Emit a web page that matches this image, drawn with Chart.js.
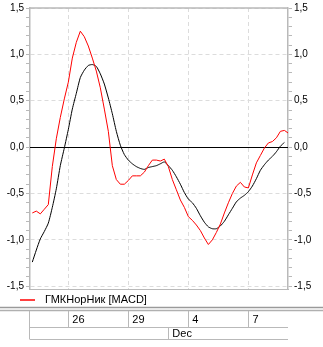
<!DOCTYPE html>
<html>
<head>
<meta charset="utf-8">
<script src="https://cdn.jsdelivr.net/npm/chart.js@4.4.1/dist/chart.umd.min.js"></script>
<style>
  html, body { margin: 0; padding: 0; background: #fff; }
  #wrap { width: 323px; height: 347px; position: relative; }
</style>
</head>
<body>
<div id="wrap"><canvas id="macdChart"></canvas></div>
<script>
// MACD line (red) and signal line (black), one value per bar
const macd = [
  -0.71, -0.69, -0.72, -0.67, -0.62, -0.21, 0.09, 0.32, 0.52, 0.70,
  0.96, 1.13, 1.25, 1.19, 1.09, 0.96, 0.82, 0.64, 0.41, 0.17,
  -0.20, -0.35, -0.40, -0.40, -0.36, -0.31, -0.31, -0.31, -0.27, -0.20,
  -0.14, -0.14, -0.15, -0.13, -0.21, -0.35, -0.46, -0.57, -0.65, -0.75,
  -0.79, -0.84, -0.90, -0.98, -1.05, -1.00, -0.92, -0.83, -0.71, -0.60,
  -0.50, -0.42, -0.38, -0.43, -0.44, -0.30, -0.17, -0.09, -0.01, 0.045,
  0.06, 0.10, 0.17, 0.18, 0.15
];
const signal = [
  -1.24, -1.11, -0.99, -0.91, -0.82, -0.65, -0.45, -0.20, -0.01, 0.19,
  0.41, 0.58, 0.75, 0.83, 0.88, 0.89, 0.87, 0.79, 0.68, 0.53,
  0.36, 0.17, 0.02, -0.08, -0.14, -0.18, -0.21, -0.23, -0.24, -0.22,
  -0.21, -0.20, -0.18, -0.16, -0.20, -0.25, -0.32, -0.40, -0.49, -0.56,
  -0.60, -0.66, -0.74, -0.81, -0.86, -0.88, -0.88, -0.85, -0.80, -0.73,
  -0.66, -0.59, -0.55, -0.52, -0.48, -0.42, -0.34, -0.25, -0.19, -0.14,
  -0.10, -0.05, 0.01, 0.05, null
];

// date row: bar index where each day / month starts
const dayIdx = [9, 24, 39, 54];
const dayLabels = ['26', '29', '4', '7'];
const monthIdx = [34];
const monthLabels = ['Dec'];

const yMajor = [-1.5, -1.0, -0.5, 0, 0.5, 1.0, 1.5];
const seriesName = 'ГМКНорНик [MACD]';

const axisColor = '#b9b9b9';
const gridColor = '#dcdcdc';
const font = '"Liberation Sans", Arial, sans-serif';

function fmt(v) {
  return v.toFixed(1).replace('.', ',');
}
function isMajor(v) {
  return yMajor.some(m => Math.abs(m - v) < 1e-6);
}
function yTicks(scale) {
  const t = [];
  for (let k = -15; k <= 15; k++) t.push({ value: k / 10 });
  scale.ticks = t;
}

const extras = {
  id: 'extras',
  beforeDatasetsDraw(chart) {
    const { ctx, chartArea: a, scales } = chart;
    const y0 = Math.round(scales.y.getPixelForValue(0)) + 0.5;
    ctx.save();
    ctx.strokeStyle = '#000';
    ctx.lineWidth = 1;
    ctx.beginPath();
    ctx.moveTo(a.left, y0);
    ctx.lineTo(a.right, y0);
    ctx.stroke();
    ctx.restore();
  },
  afterDraw(chart) {
    const { ctx, chartArea: a, scales } = chart;
    const xs = scales.x;
    ctx.save();
    // top frame
    ctx.strokeStyle = axisColor;
    ctx.lineWidth = 1.5;
    ctx.beginPath();
    ctx.moveTo(a.left, a.top);
    ctx.lineTo(a.right, a.top);
    ctx.stroke();

    // legend
    ctx.strokeStyle = '#ff0000';
    ctx.lineWidth = 1.5;
    ctx.beginPath();
    ctx.moveTo(20, 300);
    ctx.lineTo(35, 300);
    ctx.stroke();
    ctx.fillStyle = '#000';
    ctx.font = '11px ' + font;
    ctx.textBaseline = 'middle';
    ctx.textAlign = 'left';
    ctx.fillText(seriesName, 45, 300);

    // double separator
    ctx.lineWidth = 1.5;
    ctx.strokeStyle = '#9a9a9a';
    ctx.beginPath();
    ctx.moveTo(0, 307.5);
    ctx.lineTo(chart.width, 307.5);
    ctx.stroke();
    ctx.strokeStyle = '#b0b0b0';
    ctx.beginPath();
    ctx.moveTo(0, 310.5);
    ctx.lineTo(chart.width, 310.5);
    ctx.stroke();

    // date table
    const top = 311, mid = 327.5, bot = 339.5;
    ctx.strokeStyle = axisColor;
    ctx.lineWidth = 1;
    ctx.beginPath();
    ctx.moveTo(a.left - 0.5, top);
    ctx.lineTo(a.left - 0.5, bot);
    ctx.moveTo(a.left, mid);
    ctx.lineTo(a.right, mid);
    ctx.moveTo(a.left, bot);
    ctx.lineTo(a.right, bot);
    dayIdx.forEach(i => {
      const px = Math.round(xs.getPixelForValue(i)) + 0.5;
      ctx.moveTo(px, top);
      ctx.lineTo(px, mid);
    });
    monthIdx.forEach(i => {
      const px = Math.round(xs.getPixelForValue(i)) + 0.5;
      ctx.moveTo(px, mid);
      ctx.lineTo(px, bot);
    });
    ctx.stroke();

    ctx.fillStyle = '#000';
    ctx.font = '11px ' + font;
    dayIdx.forEach((i, k) => {
      ctx.fillText(dayLabels[k], xs.getPixelForValue(i) + 4, 320);
    });
    monthIdx.forEach((i, k) => {
      ctx.fillText(monthLabels[k], xs.getPixelForValue(i) + 4, 334);
    });
    ctx.restore();
  }
};

const yCommon = {
  min: -1.53,
  max: 1.5,
  afterBuildTicks: yTicks,
  border: { color: axisColor, width: 1.5 },
  ticks: {
    autoSkip: false,
    color: '#000',
    padding: 2,
    font: { family: font, size: 10 },
    callback: v => (isMajor(v) ? fmt(v) : '')
  }
};

new Chart(document.getElementById('macdChart'), {
  type: 'line',
  data: {
    datasets: [
      {
        label: seriesName,
        data: macd.map((v, i) => ({ x: i, y: v })),
        borderColor: '#ff0000',
        borderWidth: 1,
        pointRadius: 0,
        tension: 0,
        fill: false
      },
      {
        label: 'signal',
        data: signal.map((v, i) => ({ x: i, y: v })),
        borderColor: '#000',
        borderWidth: 1,
        pointRadius: 0,
        tension: 0.2,
        fill: false
      }
    ]
  },
  options: {
    responsive: true,
    maintainAspectRatio: false,
    animation: false,
    layout: { padding: { left: 0, right: 0, top: 4, bottom: 58 } },
    plugins: { legend: { display: false }, tooltip: { enabled: false } },
    scales: {
      x: {
        type: 'linear',
        min: -0.575,
        max: 63.9,
        afterBuildTicks: s => { s.ticks = dayIdx.map(v => ({ value: v })); },
        afterFit: s => { s.height = 0; },
        ticks: { display: false },
        grid: { color: gridColor, drawTicks: false },
        border: { color: axisColor, width: 1, dash: [4, 3] }
      },
      y: Object.assign({}, yCommon, {
        position: 'left',
        afterFit: s => { s.width = 30; },
        border: { color: axisColor, width: 1.5, dash: [4, 3] },
        grid: {
          color: c => (c.tick && isMajor(c.tick.value) && c.tick.value !== 0 ? gridColor : 'rgba(0,0,0,0)'),
          tickColor: axisColor,
          tickLength: 4,
          tickBorderDash: []
        }
      }),
      y2: Object.assign({}, yCommon, {
        position: 'right',
        afterFit: s => { s.width = 35; },
        grid: {
          drawOnChartArea: false,
          tickColor: axisColor,
          tickLength: 4
        }
      })
    }
  },
  plugins: [extras]
});
</script>
</body>
</html>
